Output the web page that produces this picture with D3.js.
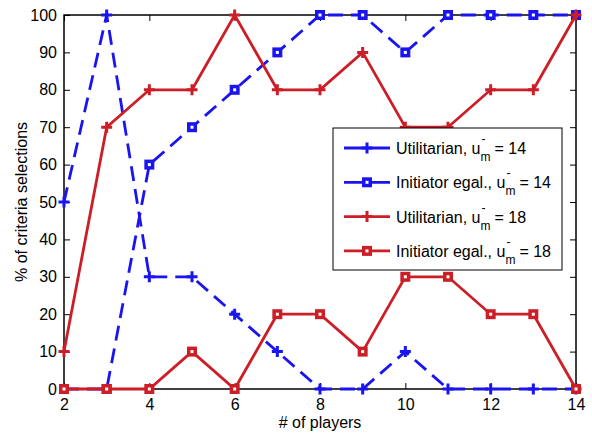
<!DOCTYPE html>
<html><head><meta charset="utf-8">
<script src="https://cdn.jsdelivr.net/npm/d3@7"></script>
<style>body{margin:0;background:#fff;}svg{display:block;font-family:"Liberation Sans",Arial,sans-serif;}</style>
</head><body><svg id="c" width="592" height="434"></svg>
<script>
const players = [2,3,4,5,6,7,8,9,10,11,12,13,14];
const util14 = [50,100,30,30,20,10,0,0,10,0,0,0,0];
const egal14 = [0,0,60,70,80,90,100,100,90,100,100,100,100];
const util18 = [10,70,80,80,100,80,80,90,70,70,80,80,100];
const egal18 = [0,0,0,10,0,20,20,10,30,30,20,20,0];
const xTicks = [2,4,6,8,10,12,14];
const yTicks = [0,10,20,30,40,50,60,70,80,90,100];
const seriesNames = ["Utilitarian, u","Initiator egal., u","Utilitarian, u","Initiator egal., u"];
const seriesUm = ["14","14","18","18"];

const blue="#1a14f0", red="#cc1e26";
const series = [
  {vals:util14,color:blue,dash:"15,8",marker:"plus"},
  {vals:egal14,color:blue,dash:"15,8",marker:"square"},
  {vals:util18,color:red,dash:null,marker:"plus"},
  {vals:egal18,color:red,dash:null,marker:"square"}
];

const L=64,R=576,T=15,B=389;
const FS=16;
const svg=d3.select("#c");
const x=d3.scaleLinear().domain([2,14]).range([L,R]);
const y=d3.scaleLinear().domain([0,100]).range([B,T]);

const tl=6;
const gx=svg.append("g").attr("transform",`translate(0,${B})`)
  .call(d3.axisBottom(x).tickValues(xTicks).tickSize(-tl).tickPadding(10).tickFormat(d3.format("d")));
const gy=svg.append("g").attr("transform",`translate(${L},0)`)
  .call(d3.axisLeft(y).tickValues(yTicks).tickSize(-tl).tickPadding(7).tickFormat(d3.format("d")));
const gxt=svg.append("g").attr("transform",`translate(0,${T})`)
  .call(d3.axisTop(x).tickValues(xTicks).tickSize(-tl).tickFormat(""));
const gyr=svg.append("g").attr("transform",`translate(${R},0)`)
  .call(d3.axisRight(y).tickValues(yTicks).tickSize(-tl).tickFormat(""));
[gx,gy,gxt,gyr].forEach(g=>{
  g.select(".domain").remove();
  g.selectAll("line").attr("stroke","#000").attr("stroke-width",1);
  g.selectAll("text").attr("font-size",FS).attr("fill","#000").attr("font-family","Liberation Sans, Arial, sans-serif");
});
svg.append("rect").attr("x",L).attr("y",T).attr("width",R-L).attr("height",B-T)
  .attr("fill","none").attr("stroke","#000").attr("stroke-width",1.5);

const line=d3.line().x((d,i)=>x(players[i])).y(d=>y(d));
function marker(g,type,cx,cy,color){
  if(type==="plus"){
    g.append("path").attr("d",`M${cx-5.5},${cy}H${cx+5.5}M${cx},${cy-5.5}V${cy+5.5}`)
      .attr("stroke",color).attr("stroke-width",3).attr("fill","none");
  } else {
    g.append("rect").attr("x",cx-3.25).attr("y",cy-3.25).attr("width",6.5).attr("height",6.5)
      .attr("fill","#fff").attr("stroke",color).attr("stroke-width",3.5);
  }
}
const plot=svg.append("g");
series.forEach(s=>{
  plot.append("path").datum(s.vals).attr("d",line).attr("fill","none")
    .attr("stroke",s.color).attr("stroke-width",2.8)
    .attr("stroke-dasharray",s.dash).attr("stroke-linejoin","miter");
  const mg=plot.append("g");
  s.vals.forEach((v,i)=>marker(mg,s.marker,x(players[i]),y(v),s.color));
});

svg.append("text").attr("x",(L+R)/2).attr("y",428).attr("text-anchor","middle")
  .attr("font-size",FS).text("# of players");
svg.append("text").attr("transform",`translate(27,${(T+B)/2}) rotate(-90)`).attr("text-anchor","middle")
  .attr("font-size",FS).text("% of criteria selections");

const lg=svg.append("g");
lg.append("rect").attr("x",333).attr("y",128).attr("width",229).attr("height",142)
  .attr("fill","#fff").attr("stroke","#000").attr("stroke-width",1);
series.forEach((s,i)=>{
  const cy=148+i*34.3;
  lg.append("line").attr("x1",344).attr("x2",390).attr("y1",cy).attr("y2",cy)
    .attr("stroke",s.color).attr("stroke-width",2.8);
  marker(lg,s.marker,367,cy,s.color);
  const t=lg.append("text").attr("x",396).attr("y",cy+6).attr("font-size",FS);
  t.append("tspan").text(seriesNames[i]);
  t.append("tspan").attr("dy",-11).attr("dx",1).attr("font-size",12).text("-");
  t.append("tspan").attr("dy",18).attr("dx",-5).attr("font-size",12).text("m");
  t.append("tspan").attr("dy",-7).attr("dx",4).text("= "+seriesUm[i]);
});
</script></body></html>
